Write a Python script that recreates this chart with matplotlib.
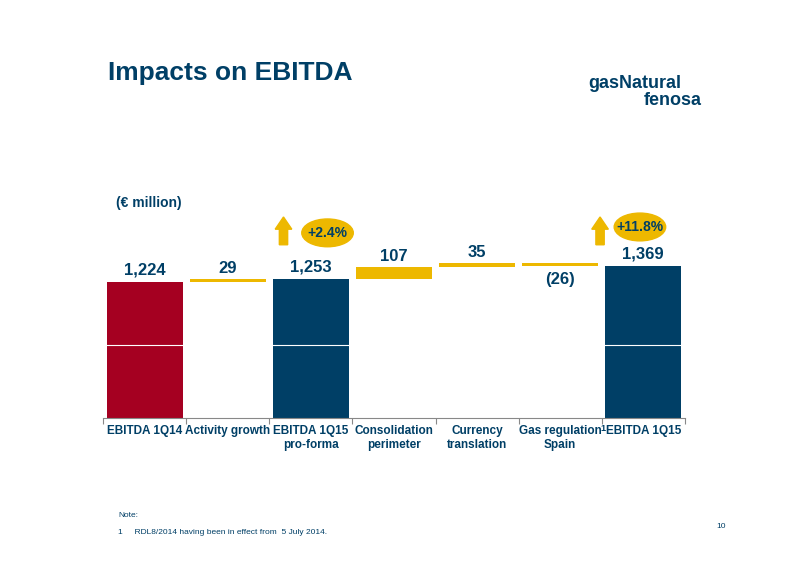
import matplotlib
matplotlib.use("Agg")
import matplotlib.pyplot as plt
from matplotlib.patches import Ellipse, FancyArrow

categories = ["EBITDA 1Q14", "Activity growth", "EBITDA 1Q15\npro-forma", "Consolidation\nperimeter",
              "Currency\ntranslation", "Gas regulation\nSpain", "EBITDA 1Q15"]
values = [1224, 29, 1253, 107, 35, -26, 1369]
labels = ["1,224", "29", "1,253", "107", "35", "(26)", "1,369"]
kinds = ["total", "delta", "total", "delta", "delta", "delta", "total"]

RED = "#A50021"
NAVY = "#003F66"
YELLOW = "#EDB800"

plt.rcParams['font.family'] = ['Liberation Sans', 'DejaVu Sans']
fig = plt.figure(figsize=(8, 5.65), dpi=100)
ax = fig.add_axes([0.129, 0.26, 0.727, 0.295])

x = list(range(len(categories)))
running = 0
for i, (v, k, lab) in enumerate(zip(values, kinds, labels)):
    if k == "total":
        color = RED if i == 0 else NAVY
        ax.bar(i, v, width=0.92, color=color, zorder=2)
        running = v
        ax.text(i, v + 40, lab, ha="center", va="bottom", fontsize=12, fontweight="bold", color=NAVY)
    else:
        base = running if v > 0 else running + v
        h = abs(v)
        ax.bar(i, h, bottom=base, width=0.92, color=YELLOW, zorder=2)
        running += v
        if v > 0:
            ax.text(i, base + h + 30, lab, ha="center", va="bottom", fontsize=12, fontweight="bold", color=NAVY)
        else:
            ax.text(i, base - 50, lab, ha="center", va="top", fontsize=12, fontweight="bold", color=NAVY)

# white grid line across bars
ax.axhline(657, color="white", lw=0.8, zorder=3)

ax.set_xlim(-0.5, len(categories) - 0.5)
ax.set_ylim(0, 1500)
ax.set_yticks([])
ax.set_xticks([i + 0.5 for i in x[:-1]] + [-0.5, len(categories) - 0.5], minor=False)
ax.set_xticklabels([])
ax.tick_params(axis="x", length=4, color="#888888")
for i, c in enumerate(categories):
    ax.text(i, -60, c, ha="center", va="top", fontsize=8.5, fontweight="bold", color=NAVY)
ax.text(5.49, -50, "1", ha="left", va="top", fontsize=6.5, fontweight="bold", color=NAVY)
for s in ["top", "left", "right"]:
    ax.spines[s].set_visible(False)
ax.spines["bottom"].set_color("#888888")

# growth badges
for xa, xe, ye, txt in [(1.67, 2.2, 1667, "+2.4%"), (5.48, 5.96, 1720, "+11.8%")]:
    ax.add_patch(FancyArrow(xa, 1560, 0, 250, width=0.1, head_width=0.2, head_length=110,
                            length_includes_head=True, color=YELLOW, clip_on=False))
    ax.add_patch(Ellipse((xe, ye), 0.62, 250, color=YELLOW, clip_on=False))
    ax.text(xe, ye, txt, ha="center", va="center", fontsize=10, fontweight="bold", color=NAVY)

fig.text(0.135, 0.858, "Impacts on EBITDA", fontsize=19, fontweight="bold", color=NAVY)
fig.text(0.145, 0.633, "(€ million)", fontsize=10, fontweight="bold", color=NAVY)
fig.text(0.735, 0.845, "gasNatural", fontsize=13, fontweight="bold", color=NAVY)
fig.text(0.805, 0.815, "fenosa", fontsize=13, fontweight="bold", color=NAVY)
fig.text(0.148, 0.085, "Note:", fontsize=6, color=NAVY)
fig.text(0.148, 0.055, "1     RDL8/2014 having been in effect from  5 July 2014.", fontsize=6, color=NAVY)
fig.text(0.895, 0.065, "10", fontsize=6, color=NAVY)

fig.savefig("out.png", dpi=100)
